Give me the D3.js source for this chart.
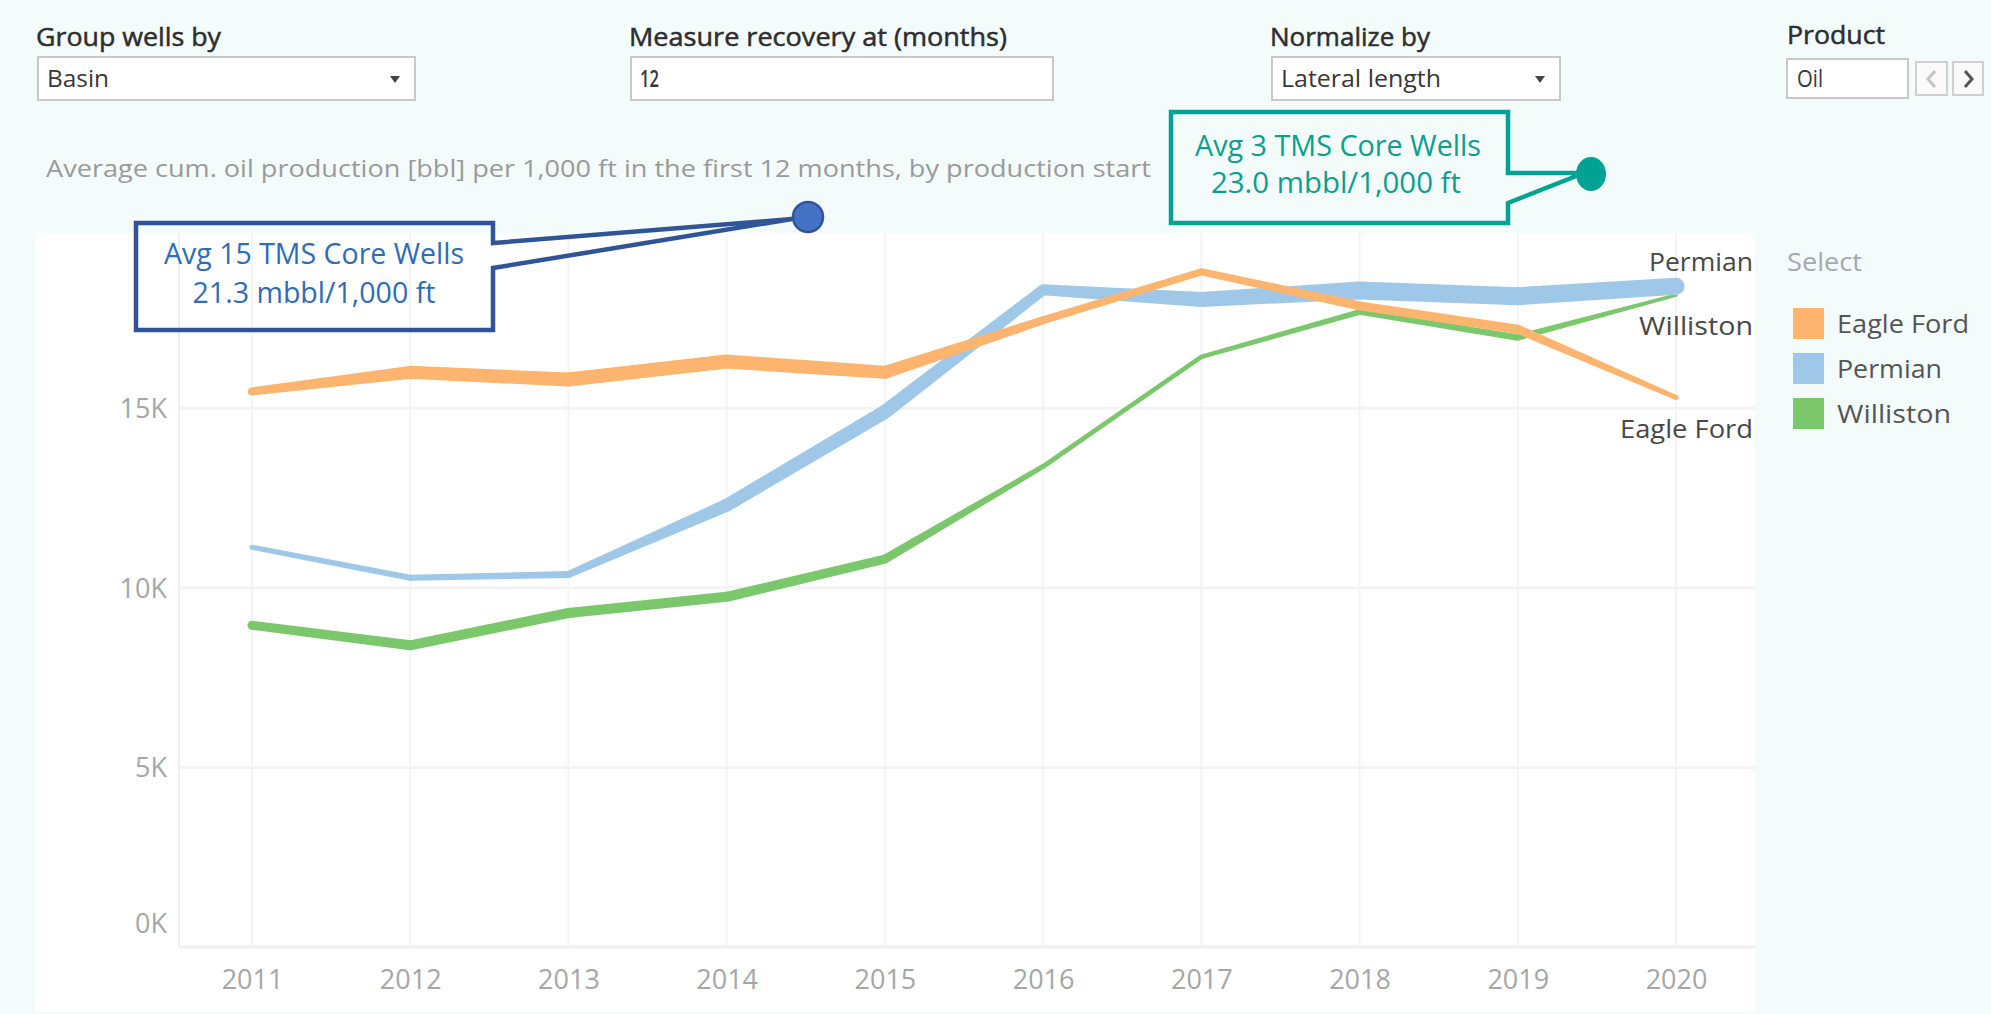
<!DOCTYPE html>
<html lang="en">
<head>
<meta charset="utf-8">
<title>Average cum. oil production per 1,000 ft by basin</title>
<script src="https://cdn.jsdelivr.net/npm/d3@7"></script>
<style>
  body { margin: 0; background: #f4fbfb; }
  svg { display: block; }
  text { font-family: "Open Sans", sans-serif; }
</style>
</head>
<body>
<script>

// ---- data ----
var years = [2011, 2012, 2013, 2014, 2015, 2016, 2017, 2018, 2019, 2020];
var yTicks = [0, 5000, 10000, 15000];
var basins = ["Eagle Ford", "Permian", "Williston"];

// average cum. oil [bbl] per 1,000 ft, first 12 months
var eagleFord = [15470, 16000, 15800, 16300, 16000, 17450, 18800, 17850, 17200, 15300];
var permian   = [11130, 10280, 10370, 12300, 14900, 18300, 18030, 18280, 18120, 18400];
var williston = [8960, 8400, 9300, 9750, 10800, 13380, 16430, 17680, 16970, 18150];

// mark size encoding (relative)
var eagleFordSize = [4, 6.5, 7, 7, 6.5, 4, 3.5, 4.5, 4.5, 2.5];
var permianSize   = [2.5, 3, 3.5, 6.5, 7, 5.5, 7.5, 9, 9, 8.5];
var willistonSize = [4.5, 5, 5, 5, 4.5, 2.5, 2.2, 2.8, 3.2, 1.6];

var colors = { "Eagle Ford": "#fdb46e", "Permian": "#9fc8e8", "Williston": "#7bc76c" };

// ---- layout ----
var W = 1991, H = 1014;
var plot = { left: 179, right: 1755, top: 233, bottom: 947 };

var svg = d3.select("body").append("svg")
	.attr("width", W)
	.attr("height", H);

svg.append("rect")
	.attr("width", W).attr("height", H)
	.attr("fill", "#f4fbfb");

// white pane
svg.append("rect")
	.attr("x", 35).attr("y", plot.top)
	.attr("width", plot.right - 35).attr("height", 1012 - plot.top)
	.attr("fill", "#ffffff");

var x = d3.scaleLinear().domain([2011, 2020]).range([252, 1676]);
var y = d3.scaleLinear().domain([0, 19880]).range([plot.bottom, plot.top]);
var w = d3.scaleLinear().domain([0, 10]).range([0, 20]);

// fit a text to a given width
function fit(sel, len) {
	return sel.attr("textLength", len).attr("lengthAdjust", "spacingAndGlyphs");
}

// ---- controls on top ----
var controls = [
	{ title: "Group wells by", tw: 185, value: "Basin", vw: 62, x0: 38, x1: 415, drop: true },
	{ title: "Measure recovery at (months)", tw: 378, value: "12", vw: 19, x0: 631, x1: 1053, drop: false },
	{ title: "Normalize by", tw: 160, value: "Lateral length", vw: 160, x0: 1272, x1: 1560, drop: true }
];

controls.forEach(function(c) {
	fit(svg.append("text")
		.attr("x", c.x0 - 2).attr("y", 46)
		.attr("font-size", 25).attr("fill", "#2e2e2e")
		.attr("stroke", "#2e2e2e").attr("stroke-width", 0.5)
		.text(c.title), c.tw);
	svg.append("rect")
		.attr("x", c.x0).attr("y", 57)
		.attr("width", c.x1 - c.x0).attr("height", 43)
		.attr("fill", "#fff").attr("stroke", "#c8c8c8").attr("stroke-width", 2);
	fit(svg.append("text")
		.attr("x", c.x0 + 9).attr("y", 87)
		.attr("font-size", 24).attr("fill", "#383838")
		.attr("font-weight", c.drop ? 400 : 600)
		.text(c.value), c.vw);
	if (c.drop) {
		var ax = c.x1 - 20;
		svg.append("path")
			.attr("d", "M" + (ax - 5) + ",76 L" + (ax + 5) + ",76 L" + ax + ",83 Z")
			.attr("fill", "#444");
	}
});

// product selector
fit(svg.append("text")
	.attr("x", 1787).attr("y", 44)
	.attr("font-size", 25).attr("fill", "#2e2e2e")
	.attr("stroke", "#2e2e2e").attr("stroke-width", 0.5)
	.text("Product"), 98);
svg.append("rect")
	.attr("x", 1787).attr("y", 59).attr("width", 121).attr("height", 39)
	.attr("fill", "#fff").attr("stroke", "#c8c8c8").attr("stroke-width", 2);
fit(svg.append("text")
	.attr("x", 1797).attr("y", 87)
	.attr("font-size", 24).attr("fill", "#383838")
	.text("Oil"), 26);
svg.append("rect")
	.attr("x", 1916).attr("y", 62).attr("width", 31).attr("height", 33)
	.attr("fill", "#fafafa").attr("stroke", "#d0d0d0").attr("stroke-width", 2);
svg.append("rect")
	.attr("x", 1953).attr("y", 62).attr("width", 30).attr("height", 33)
	.attr("fill", "#fafafa").attr("stroke", "#d0d0d0").attr("stroke-width", 2);
svg.append("path")
	.attr("d", "M1935,71 L1928,79 L1935,87")
	.attr("fill", "none").attr("stroke", "#c4c4c4").attr("stroke-width", 3);
svg.append("path")
	.attr("d", "M1965,71 L1972,79 L1965,87")
	.attr("fill", "none").attr("stroke", "#555").attr("stroke-width", 3);

// subtitle
fit(svg.append("text")
	.attr("x", 46).attr("y", 177)
	.attr("font-size", 24).attr("fill", "#9a9a9a")
	.text("Average cum. oil production [bbl] per 1,000 ft in the first 12 months, by production start"), 1105);

// ---- grid ----
var grid = svg.append("g");

grid.selectAll("line.v")
	.data(years)
	.enter()
	.append("line")
	.attr("x1", function(d) { return x(d); })
	.attr("x2", function(d) { return x(d); })
	.attr("y1", plot.top).attr("y2", plot.bottom)
	.attr("stroke", "#f4f4f4").attr("stroke-width", 2);

grid.selectAll("line.h")
	.data(yTicks.filter(function(d) { return d > 0; }))
	.enter()
	.append("line")
	.attr("x1", plot.left).attr("x2", plot.right)
	.attr("y1", function(d) { return y(d); })
	.attr("y2", function(d) { return y(d); })
	.attr("stroke", "#f3f3f3").attr("stroke-width", 3);

grid.append("line")
	.attr("x1", plot.left).attr("x2", plot.left)
	.attr("y1", plot.top).attr("y2", plot.bottom)
	.attr("stroke", "#efefef").attr("stroke-width", 2);
grid.append("line")
	.attr("x1", plot.left).attr("x2", plot.right)
	.attr("y1", plot.bottom).attr("y2", plot.bottom)
	.attr("stroke", "#f0f0f0").attr("stroke-width", 3);

// ---- axes ----
var yAxis = svg.append("g")
	.attr("transform", "translate(167,0)")
	.call(d3.axisLeft(y)
		.tickValues(yTicks)
		.tickSize(0)
		.tickPadding(0)
		.tickFormat(function(d) { return (d / 1000) + "K"; }));
yAxis.select(".domain").remove();
yAxis.selectAll("text")
	.attr("font-family", "Open Sans, sans-serif")
	.attr("font-size", 27)
	.attr("fill", "#a6a6a6")
	.attr("dy", function(d) { return d === 0 ? "-0.55em" : "0.35em"; });

var xAxis = svg.append("g")
	.attr("transform", "translate(0," + plot.bottom + ")")
	.call(d3.axisBottom(x)
		.tickValues(years)
		.tickSize(0)
		.tickPadding(23)
		.tickFormat(d3.format("d")));
xAxis.select(".domain").remove();
xAxis.selectAll("text")
	.attr("font-family", "Open Sans, sans-serif")
	.attr("font-size", 27)
	.attr("fill", "#a6a6a6");

// ---- lines with varying width ----
var series = [
	{ name: "Williston", values: williston, sizes: willistonSize },
	{ name: "Permian", values: permian, sizes: permianSize },
	{ name: "Eagle Ford", values: eagleFord, sizes: eagleFordSize }
];

series.forEach(function(s) {
	var pts = years.map(function(yr, i) {
		return { px: x(yr), py: y(s.values[i]), r: w(s.sizes[i]) / 2 };
	});
	var g = svg.append("g").attr("fill", colors[s.name]);

	g.selectAll("polygon")
		.data(d3.pairs(pts))
		.enter()
		.append("polygon")
		.attr("points", function(d) {
			var a = d[0], b = d[1];
			var dx = b.px - a.px, dy = b.py - a.py;
			var len = Math.sqrt(dx * dx + dy * dy);
			var nx = -dy / len, ny = dx / len;
			return [
				[a.px + nx * a.r, a.py + ny * a.r],
				[b.px + nx * b.r, b.py + ny * b.r],
				[b.px - nx * b.r, b.py - ny * b.r],
				[a.px - nx * a.r, a.py - ny * a.r]
			].join(" ");
		});

	g.selectAll("circle")
		.data(pts)
		.enter()
		.append("circle")
		.attr("cx", function(d) { return d.px; })
		.attr("cy", function(d) { return d.py; })
		.attr("r", function(d) { return d.r; });
});

// end labels
var endLabels = [
	{ name: "Permian", y: 262, len: 104 },
	{ name: "Williston", y: 326, len: 114 },
	{ name: "Eagle Ford", y: 429, len: 133 }
];
svg.selectAll("text.endlabel")
	.data(endLabels)
	.enter()
	.append("text")
	.attr("class", "endlabel")
	.attr("x", 1753)
	.attr("y", function(d) { return d.y; })
	.attr("dy", "0.35em")
	.attr("text-anchor", "end")
	.attr("font-size", 26)
	.attr("fill", "#484848")
	.attr("textLength", function(d) { return d.len; })
	.attr("lengthAdjust", "spacingAndGlyphs")
	.text(function(d) { return d.name; });

// ---- legend ----
fit(svg.append("text")
	.attr("x", 1787).attr("y", 262).attr("dy", "0.35em")
	.attr("font-size", 26).attr("fill", "#a5a8b0")
	.text("Select"), 75);

var legendLen = { "Eagle Ford": 132, "Permian": 105, "Williston": 114 };
var legend = svg.selectAll("g.legend")
	.data(basins)
	.enter()
	.append("g")
	.attr("class", "legend")
	.attr("transform", function(d, i) { return "translate(1793," + (308 + i * 45) + ")"; });
legend.append("rect")
	.attr("width", 31).attr("height", 31)
	.attr("fill", function(d) { return colors[d]; });
legend.append("text")
	.attr("x", 44).attr("y", 15.5).attr("dy", "0.35em")
	.attr("font-size", 26).attr("fill", "#555")
	.attr("textLength", function(d) { return legendLen[d]; })
	.attr("lengthAdjust", "spacingAndGlyphs")
	.text(function(d) { return d; });

// ---- callouts ----
// navy: TMS core wells (15)
svg.append("path")
	.attr("d", "M136,223 H493 V243 L792,219 L493,268 V330 H136 Z")
	.attr("fill", "none").attr("stroke", "#2f5597")
	.attr("stroke-width", 4.5).attr("stroke-linejoin", "miter");
svg.append("ellipse")
	.attr("cx", 808).attr("cy", 217).attr("rx", 15).attr("ry", 15)
	.attr("fill", "#4472c4").attr("stroke", "#2f5597").attr("stroke-width", 2.5);
fit(svg.append("text")
	.attr("x", 314).attr("y", 264).attr("text-anchor", "middle")
	.attr("font-family", "Lato, sans-serif").attr("font-size", 29).attr("fill", "#2e6db5")
	.text("Avg 15 TMS Core Wells"), 300);
fit(svg.append("text")
	.attr("x", 314).attr("y", 303).attr("text-anchor", "middle")
	.attr("font-family", "Lato, sans-serif").attr("font-size", 29).attr("fill", "#2e6db5")
	.text("21.3 mbbl/1,000 ft"), 243);

// teal: TMS core wells (3)
svg.append("path")
	.attr("d", "M1171,112 H1508 V173 L1584,173 L1508,203 V223 H1171 Z")
	.attr("fill", "none").attr("stroke", "#00a393")
	.attr("stroke-width", 4.5).attr("stroke-linejoin", "miter");
svg.append("ellipse")
	.attr("cx", 1591).attr("cy", 174).attr("rx", 15).attr("ry", 17)
	.attr("fill", "#00a393");
fit(svg.append("text")
	.attr("x", 1338).attr("y", 156).attr("text-anchor", "middle")
	.attr("font-family", "Lato, sans-serif").attr("font-size", 29).attr("fill", "#0b9f8d")
	.text("Avg 3 TMS Core Wells"), 286);
fit(svg.append("text")
	.attr("x", 1336).attr("y", 193).attr("text-anchor", "middle")
	.attr("font-family", "Lato, sans-serif").attr("font-size", 29).attr("fill", "#0b9f8d")
	.text("23.0 mbbl/1,000 ft"), 250);

</script>
</body>
</html>
